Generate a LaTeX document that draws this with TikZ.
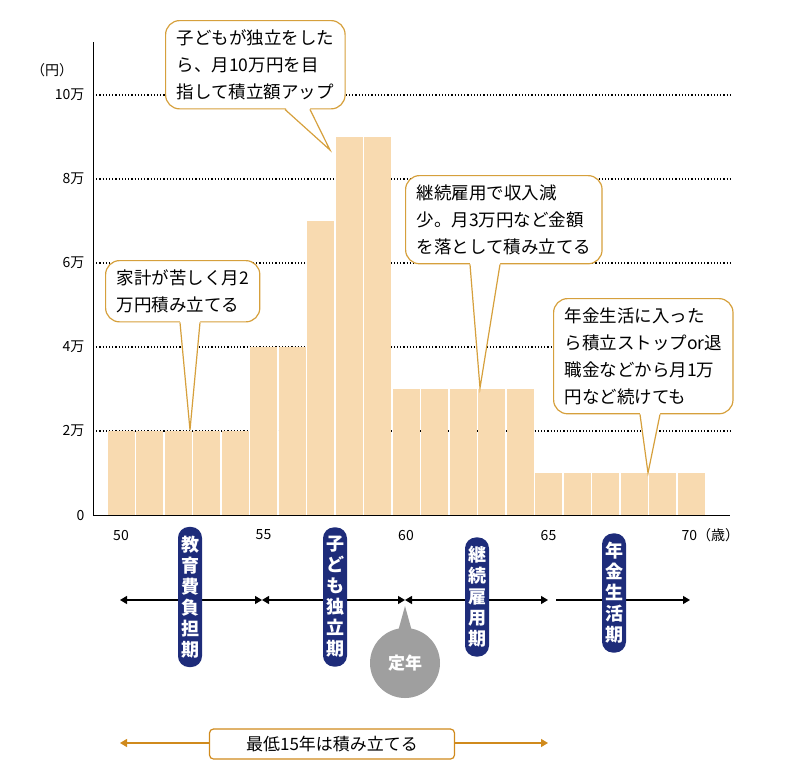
\documentclass[tikz,border=0pt]{standalone}
\usepackage{fontspec}
\setmainfont{Noto Sans CJK JP}
\usetikzlibrary{positioning,arrows.meta}
\definecolor{barfill}{HTML}{F8DAB0}
\definecolor{callline}{HTML}{D6A03C}
\definecolor{pillblue}{HTML}{1E2C7A}
\definecolor{darrow}{HTML}{D08A1C}
\tikzset{
  callout/.style={draw=callline,line width=1.2pt,fill=white,rounded corners=14pt,align=left,font=\fontsize{17.5}{27}\selectfont,inner xsep=11pt,inner ysep=9pt},
  tail/.style={draw=callline,line width=1.2pt},
  pill/.style={fill=pillblue,text=white,rounded corners=11pt,align=center,font=\fontsize{18}{21}\selectfont\bfseries,inner xsep=3pt,inner ysep=9pt},
  period/.style={{Triangle[length=7pt,width=8pt]}-{Triangle[length=7pt,width=8pt]},line width=1.2pt},
  ticklab/.style={font=\fontsize{14}{16}\selectfont}
}
\begin{document}
\begin{tikzpicture}[x=1pt,y=-1pt]
    \useasboundingbox (0,0) rectangle (800,780);
    % grid and axis
    \foreach \v/\lab in {1/2万,2/4万,3/6万,4/8万,5/10万} {
        \draw[dotted,line width=1.2pt] (93,515-84*\v) -- (730,515-84*\v);
        \node[ticklab,anchor=east] (y\v) at (88,515-84*\v) {\lab};
    }
    \node[ticklab,anchor=east] (y0) at (88,515) {0};
    \node[ticklab] (unit) at (52,70) {（円）};
    % bars
    \foreach \h [count=\i from 0] in {2,2,2,2,2,4,4,7,9,9,3,3,3,3,3,1,1,1,1,1,1} {
        \fill[barfill] (107.5+28.5*\i,515) rectangle (134.5+28.5*\i,515-42*\h);
    }
    \draw[line width=0.8pt] (93,42) -- (93,515) -- (730,515);
    \foreach \a [count=\i from 0] in {50,55,60,65} {
        \node[ticklab] (x\a) at (121+142.5*\i,535) {\a};
    }
    \node[ticklab,anchor=west] (x70) at (678,535) {70（歳）};
    % callouts
    \node[callout,anchor=north west] (c1) at (105,260) {家計が苦しく月2\\万円積み立てる};
    \node[callout,anchor=north west] (c2) at (165,20) {子どもが独立をした\\ら、月10万円を目\\指して積立額アップ};
    \node[callout,anchor=north west] (c3) at (405,175) {継続雇用で収入減\\少。月3万円など金額\\を落として積み立てる};
    \node[callout,anchor=north west] (c4) at (553,298) {年金生活に入った\\ら積立ストップor退\\職金などから月1万\\円など続けても};
    \foreach \c/\xa/\xb/\tx/\ty in {c1/180/200/190/430,c2/285/310/330/150,c3/470/500/480/388,c4/640/660/648/473} {
        \fill[white] (\xa,0 |- \c.south) ++(0,-2) -- (\tx,\ty) -- (\xb,0 |- \c.south) -- ++(0,-2) -- cycle;
        \draw[tail] (\xa,0 |- \c.south) -- (\tx,\ty) -- (\xb,0 |- \c.south);
    }
    % periods
    \coordinate (p50) at (120,600);
    \coordinate (p55) at (262,600);
    \coordinate (p60) at (405,600);
    \coordinate (p65) at (548,600);
    \coordinate (p65b) at (556,600);
    \coordinate (p70) at (690,600);
    \draw[period] (p50) -- (p55);
    \draw[period] (p55) -- (p60);
    \draw[period] (p60) -- (p65);
    \draw[line width=1.2pt,-{Triangle[length=7pt,width=8pt]}] (p65b) -- (p70);
    \node[pill] (edu) at (190,597) {教\\育\\費\\負\\担\\期};
    \node[pill] (ind) at (335,597) {子\\ど\\も\\独\\立\\期};
    \node[pill] (emp) at (477,597) {継\\続\\雇\\用\\期};
    \node[pill] (pen) at (614,593) {年\\金\\生\\活\\期};
    % retirement
    \node[circle,fill=gray!75,text=white,minimum size=70pt,font=\fontsize{17}{20}\selectfont\bfseries] (ret) at (405,663) {定年};
    \coordinate (rtip) at (405,606);
    \fill[gray!75] (397,635) -- (rtip) -- (413,635) -- cycle;
    % minimum period
    \coordinate (m0) at (120,743);
    \coordinate (m1) at (548,743);
    \draw[period,darrow] (m0) -- (m1);
    \node[draw=darrow,line width=1.2pt,fill=white,rounded corners=4pt,minimum width=245pt,minimum height=30pt,font=\fontsize{17}{20}\selectfont] (min) at (332,744) {最低15年は積み立てる};
\end{tikzpicture}
\end{document}
